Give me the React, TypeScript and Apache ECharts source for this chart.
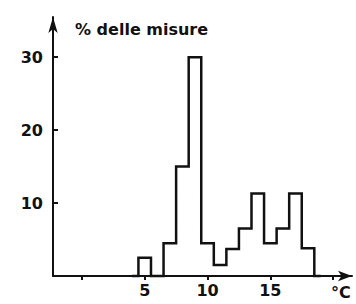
import React, { useEffect, useRef } from "react";
import * as echarts from "echarts";

const temps = [4, 5, 6, 7, 8, 9, 10, 11, 12, 13, 14, 15, 16, 17, 18, 19];
const percents = [0, 2.5, 0, 4.5, 15, 30, 4.5, 1.5, 3.7, 6.5, 11.3, 4.5, 6.5, 11.3, 3.8, 0];
const xTicks = [0, 5, 10, 15, 20];
const xLabels = [5, 10, 15];
const yLabels = [10, 20, 30];
const yName = "% delle misure";
const xName = "°C";

const FONT = "DejaVu Sans";
const INK = "#111";

export default function App() {
  const ref = useRef<HTMLDivElement>(null);
  useEffect(() => {
    if (!ref.current) return;
    const chart = echarts.init(ref.current, null, { renderer: "svg" });
    chart.setOption({
      animation: false,
      backgroundColor: "#fff",
      grid: { left: 53, right: 4, top: 17, bottom: 28, containLabel: false },
      xAxis: {
        type: "value",
        min: -2.3,
        max: 21.5,
        splitLine: { show: false },
        axisLine: {
          onZero: false,
          lineStyle: { color: INK, width: 2 },
          symbol: ["none", "arrow"],
          symbolSize: [8, 14],
        },
        axisTick: {
          customValues: xTicks,
          inside: false,
          length: 4,
          lineStyle: { color: INK, width: 2 },
        },
        axisLabel: {
          customValues: xLabels,
          color: INK,
          fontFamily: FONT,
          fontWeight: "bold",
          fontSize: 16,
          margin: 6,
        },
      },
      yAxis: {
        type: "value",
        min: 0,
        max: 35.5,
        splitLine: { show: false },
        name: yName,
        nameLocation: "end",
        nameGap: -20,
        nameTextStyle: {
          color: INK,
          fontFamily: FONT,
          fontWeight: "bold",
          fontSize: 16,
          align: "left",
          padding: [0, 0, 0, 22],
        },
        axisLine: {
          show: true,
          onZero: false,
          lineStyle: { color: INK, width: 2 },
          symbol: ["none", "arrow"],
          symbolSize: [7, 16],
        },
        axisTick: {
          customValues: yLabels,
          inside: true,
          length: 5,
          lineStyle: { color: INK, width: 2 },
        },
        axisLabel: {
          customValues: yLabels,
          color: INK,
          fontFamily: FONT,
          fontWeight: "bold",
          fontSize: 16,
          margin: 10,
        },
      },
      graphic: [
        {
          type: "text",
          left: 331,
          top: 284,
          style: {
            text: xName,
            fill: INK,
            font: `bold 16px "${FONT}"`,
          },
        },
      ],
      series: [
        {
          type: "line",
          step: "middle",
          symbol: "none",
          clip: false,
          data: temps.map((t, i) => [t, percents[i]]),
          lineStyle: { color: INK, width: 2.5, join: "miter" },
        },
      ],
    });
    return () => chart.dispose();
  }, []);
  return (
    <div
      ref={ref}
      style={{ position: "absolute", left: 0, top: 0, width: 356, height: 304 }}
    />
  );
}
